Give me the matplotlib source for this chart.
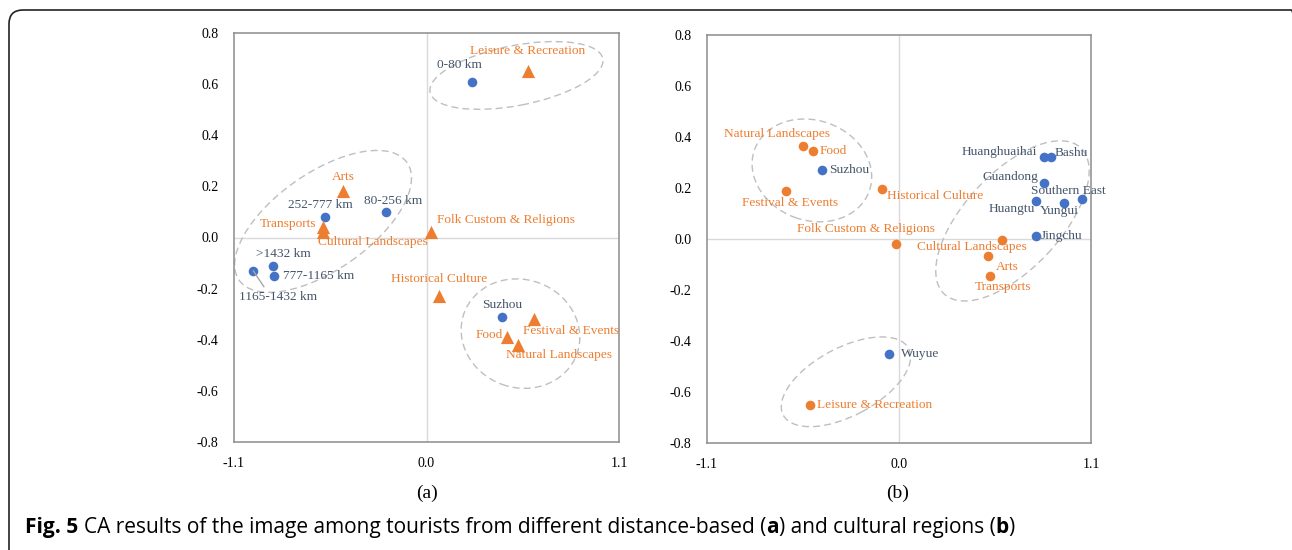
import matplotlib

matplotlib.use("Agg")
import matplotlib.pyplot as plt  # noqa: E402
from matplotlib.patches import Ellipse, FancyBboxPatch  # noqa: E402
from matplotlib.transforms import IdentityTransform, ScaledTranslation  # noqa: E402

BLUE = "#4472C4"
ORANGE = "#ED7D31"
SLATE = "#44546A"
ZERO_GREY = "#d9d9d9"
FRAME_GREY = "#8c8c8c"
RING_GREY = "#bfbfbf"

# --- (a) tourists grouped by travel distance -------------------------------
dist_groups = ["0-80 km", "80-256 km", "252-777 km", "777-1165 km",
               "1165-1432 km", ">1432 km", "Suzhou"]
dist_x = [0.26, -0.23, -0.58, -0.87, -0.99, -0.88, 0.43]
dist_y = [0.61, 0.10, 0.08, -0.15, -0.13, -0.11, -0.31]

image_attrs = ["Leisure & Recreation", "Arts", "Transports", "Cultural Landscapes",
               "Folk Custom & Religions", "Historical Culture", "Festival & Events",
               "Food", "Natural Landscapes"]
dist_attr_x = [0.58, -0.48, -0.59, -0.59, 0.025, 0.07, 0.615, 0.46, 0.52]
dist_attr_y = [0.65, 0.18, 0.04, 0.02, 0.02, -0.23, -0.32, -0.39, -0.42]

# --- (b) tourists grouped by cultural region --------------------------------
regions = ["Suzhou", "Wuyue", "Huanghuaihai", "Bashu", "Guandong",
           "Huangtu", "Yungui", "Southern East", "Jingchu"]
region_x = [-0.44, -0.06, 0.83, 0.87, 0.83, 0.785, 0.945, 1.05, 0.785]
region_y = [0.27, -0.45, 0.32, 0.32, 0.22, 0.15, 0.14, 0.155, 0.01]

region_attr_x = [-0.51, 0.51, 0.52, 0.59, -0.015, -0.10, -0.645, -0.49, -0.55]
region_attr_y = [-0.65, -0.065, -0.145, -0.005, -0.02, 0.195, 0.19, 0.345, 0.365]

y_ticks = [-0.8, -0.6, -0.4, -0.2, 0.0, 0.2, 0.4, 0.6, 0.8]
x_ticks = [-1.1, 0.0, 1.1]

# label placement: (dx px, dy px, horizontal alignment)
dist_label_pos = [(-13, 17, "center"), (7, 11, "center"), (-5, 12, "center"),
                  (9, 0, "left"), (25, -26, "center"), (11, 12, "center"),
                  (0, 12, "center")]
dist_attr_label_pos = [(0, 20, "center"), (1, 14, "center"), (-7, 3, "right"),
                       (-5, -10, "left"), (6, 12, "left"), (0, 17, "center"),
                       (-11, -12, "left"), (-4, 2, "right"), (-11, -10, "left")]
region_label_pos = [(7, 0, "left"), (12, 0, "left"), (-7, 5, "right"),
                    (4, 4, "left"), (-5, 6, "right"), (-1, -8, "right"),
                    (-5, -8, "center"), (-14, 8, "center"), (5, 0, "left")]
region_attr_label_pos = [(7, 0, "left"), (19, -11, "center"), (13, -11, "center"),
                         (-30, -7, "center"), (-30, 15, "center"), (5, -7, "left"),
                         (4, -12, "center"), (6, 0, "left"), (-26, 12, "center")]

# grouping rings: centre in data units, width/height in px, angle in degrees
dist_rings = [((0.514, 0.634), 176, 60, 11),
              ((-0.591, 0.063), 205, 97, 35),
              ((0.537, -0.376), 120, 108, -20)]
region_rings = [((-0.499, 0.269), 122, 100, -20),
                ((0.650, 0.071), 200, 96, 47),
                ((-0.304, -0.56), 142, 68, 28)]

SERIF = "Liberation Serif"
CAPTION_FONT = "Open Sans"
CAPTION_SIZE = 15
DPI = 100

fig = plt.figure(figsize=(12.92, 5.5), dpi=DPI)


def draw_panel(ax, pts_x, pts_y, pts_names, pts_pos, attr_x, attr_y, attr_pos,
               attr_marker, attr_size, rings, leader=None):
    ax.set_xlim(-1.1, 1.1)
    ax.set_ylim(-0.8, 0.8)
    ax.set_xticks(x_ticks)
    ax.set_yticks(y_ticks)
    ax.set_xticklabels([f"{v:.1f}" for v in x_ticks], family=SERIF, fontsize=10)
    ax.set_yticklabels([f"{v:.1f}" for v in y_ticks], family=SERIF, fontsize=10)
    ax.tick_params(length=0, pad=11)
    for sp in ax.spines.values():
        sp.set_color(FRAME_GREY)
        sp.set_linewidth(1.1)
    ax.axhline(0, color=ZERO_GREY, lw=1.0, zorder=0)
    ax.axvline(0, color=ZERO_GREY, lw=1.0, zorder=0)

    for (cx, cy), w, h, ang in rings:
        tr = fig.dpi_scale_trans + ScaledTranslation(cx, cy, ax.transData)
        ax.add_patch(Ellipse((0, 0), w / DPI, h / DPI, angle=ang, transform=tr,
                             fill=False, ec=RING_GREY, lw=1.0, ls=(0, (5, 3)),
                             zorder=1))

    ax.scatter(pts_x, pts_y, s=48, color=BLUE, zorder=3, linewidths=0)
    ax.scatter(attr_x, attr_y, s=attr_size, marker=attr_marker, color=ORANGE,
               zorder=3, linewidths=0)

    for name, x, y, (dx, dy, ha) in zip(pts_names, pts_x, pts_y, pts_pos):
        kw = {}
        if name == leader:
            kw["arrowprops"] = dict(arrowstyle="-", color="#a6a6a6", lw=1.0,
                                    shrinkA=1, shrinkB=0, relpos=(0.35, 1.0))
        ax.annotate(name, (x, y), xytext=(dx, dy), textcoords="offset pixels",
                    ha=ha, va="center", color=SLATE, family=SERIF,
                    fontsize=9.6, zorder=4, **kw)
    for name, x, y, (dx, dy, ha) in zip(image_attrs, attr_x, attr_y, attr_pos):
        ax.annotate(name, (x, y), xytext=(dx, dy), textcoords="offset pixels",
                    ha=ha, va="center", color=ORANGE, family=SERIF,
                    fontsize=9.6, zorder=4)


ax_a = fig.add_axes([234 / 1292, 1 - 442 / 550, 385 / 1292, 409 / 550])
draw_panel(ax_a, dist_x, dist_y, dist_groups, dist_label_pos,
           dist_attr_x, dist_attr_y, dist_attr_label_pos, "^", 90, dist_rings,
           leader="1165-1432 km")

ax_b = fig.add_axes([707 / 1292, 1 - 443 / 550, 384 / 1292, 408 / 550])
draw_panel(ax_b, region_x, region_y, regions, region_label_pos,
           region_attr_x, region_attr_y, region_attr_label_pos, "o", 48,
           region_rings)

fig.text(427 / 1292, 1 - 493 / 550, "(a)", ha="center", va="center",
         family=SERIF, fontsize=14)
fig.text(898 / 1292, 1 - 493 / 550, "(b)", ha="center", va="center",
         family=SERIF, fontsize=14)

# caption: plain text with bold figure number and panel letters
cap_y = 1 - 533 / 550
caption_parts = [("Fig. 5 ", True),
                 ("CA results of the image among tourists from different distance-based (", False),
                 ("a", True), (") and cultural regions (", False), ("b", True), (")", False)]
x_px = 25
for txt, bold in caption_parts:
    t = fig.text(x_px / 1292, cap_y, txt, family=CAPTION_FONT,
                 fontsize=CAPTION_SIZE, weight="bold" if bold else "normal",
                 va="baseline", ha="left")
    fig.canvas.draw()
    x_px = t.get_window_extent().x1

# rounded panel frame, cut off by the right and bottom image edges
fig.patches.append(FancyBboxPatch((9, -30), 1296, 570,
                                  boxstyle="round,pad=0,rounding_size=14",
                                  transform=IdentityTransform(), fill=False,
                                  ec="#222222", lw=1.2, figure=fig))

fig.savefig("out.png", dpi=DPI)
